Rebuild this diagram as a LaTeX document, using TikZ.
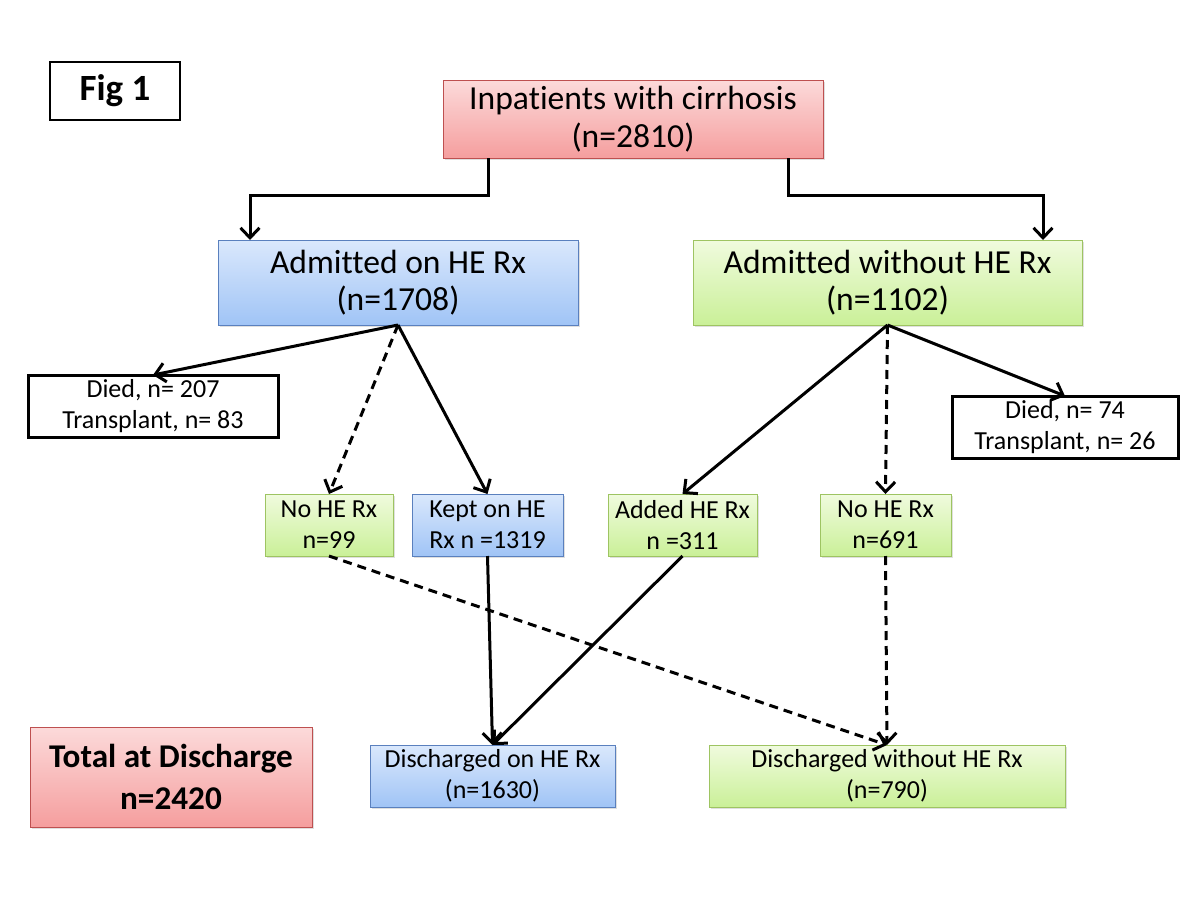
\documentclass[tikz,border=0pt]{standalone}
\usepackage{fontspec}
\setmainfont{Carlito}[Ligatures=NoCommon]
\usetikzlibrary{arrows.meta,shadows}
\definecolor{redtop}{RGB}{252,218,218}
\definecolor{redbot}{RGB}{245,158,158}
\definecolor{redline}{RGB}{190,80,80}
\definecolor{bluetop}{RGB}{218,232,252}
\definecolor{bluebot}{RGB}{160,196,246}
\definecolor{blueline}{RGB}{90,128,190}
\definecolor{greentop}{RGB}{240,251,222}
\definecolor{greenbot}{RGB}{202,240,152}
\definecolor{greenline}{RGB}{158,196,98}

\begin{document}
\begin{tikzpicture}[x=0.5pt, y=-0.5pt,
    box/.style={align=center, inner sep=0pt, outer sep=0pt},
    shade/.style={box, drop shadow={opacity=0.25, shadow xshift=1pt, shadow yshift=-1pt}},
    redbox/.style={shade, draw=redline, line width=0.5pt, top color=redtop, bottom color=redbot},
    bluebox/.style={shade, draw=blueline, line width=0.5pt, top color=bluetop, bottom color=bluebot},
    greenbox/.style={shade, draw=greenline, line width=0.5pt, top color=greentop, bottom color=greenbot},
    outbox/.style={box, draw=black, line width=1.5pt, fill=white},
    big/.style={font=\fontsize{16.8}{18.8}\selectfont},
    small/.style={font=\fontsize{13}{15.5}\selectfont},
    arr/.style={line width=1.5pt, -{Straight Barb[length=5pt, width=9.5pt]}},
    darr/.style={arr, dash pattern=on 4.5pt off 3pt}]
  \useasboundingbox (0,0) rectangle (1200,900);

  % --- label in the corner ---
  \node[box, draw=black, line width=0.75pt, minimum width=65pt, minimum height=29pt,
        font=\fontsize{18.5}{20}\selectfont\bfseries] (fig) at (115,91) {Fig 1};

  % --- top and second level ---
  \node[redbox, big, minimum width=190pt, minimum height=39pt] (inpat) at (633,119)
    {Inpatients with cirrhosis\\(n=2810)};
  \node[bluebox, big, minimum width=180pt, minimum height=42.5pt] (onrx) at (398,282.5)
    {Admitted on HE Rx\\(n=1708)};
  \node[greenbox, big, minimum width=194.5pt, minimum height=42.5pt] (offrx) at (887.5,282.5)
    {Admitted without HE Rx\\(n=1102)};

  % --- died / transplant ---
  \node[outbox, small, minimum width=125pt, minimum height=31pt] (diedon) at (153,406)
    {Died, n= 207\\Transplant, n= 83};
  \node[outbox, small, minimum width=113pt, minimum height=31pt] (diedoff) at (1065,427)
    {Died, n= 74\\Transplant, n= 26};

  % --- what happened in hospital ---
  \node[greenbox, small, minimum width=64pt, minimum height=31pt] (stopped) at (329,525)
    {No HE Rx\\n=99};
  \node[bluebox, small, minimum width=75.5pt, minimum height=31pt] (kept) at (487.5,525)
    {Kept on HE\\Rx n =1319};
  \node[greenbox, small, minimum width=74.5pt, minimum height=31pt] (added) at (682.5,525)
    {Added HE Rx\\n =311};
  \node[greenbox, small, minimum width=65.5pt, minimum height=31pt] (never) at (885.5,525)
    {No HE Rx\\n=691};

  % --- discharge ---
  \node[redbox, minimum width=141pt, minimum height=50pt,
        font=\fontsize{16.6}{21}\selectfont\bfseries] (total) at (171,777)
    {Total at Discharge\\n=2420};
  \node[bluebox, small, minimum width=122.5pt, minimum height=31pt] (dischon) at (492.5,776)
    {Discharged on HE Rx\\(n=1630)};
  \node[greenbox, small, minimum width=178pt, minimum height=31pt] (dischoff) at (887,776)
    {Discharged without HE Rx\\(n=790)};

  % --- elbow connectors from the top box ---
  \draw[arr] ([xshift=-72.5pt]inpat.south) -- ++(0,37) -| ([xshift=-74pt]onrx.north);
  \draw[arr] ([xshift=77.5pt]inpat.south) -- ++(0,37) -| ([xshift=77.75pt]offrx.north);

  % --- fan out below the admission boxes ---
  \foreach \a/\b/\s in {onrx/diedon/arr, onrx/stopped/darr, onrx/kept/arr,
                        offrx/added/arr, offrx/never/darr, offrx/diedoff/arr}
    \draw[\s] (\a.south) -- (\b.north);

  % --- on to discharge ---
  \foreach \a/\b/\s in {stopped/dischoff/darr, kept/dischon/arr,
                        added/dischon/arr, never/dischoff/darr}
    \draw[\s] (\a.south) -- (\b.north);
\end{tikzpicture}
\end{document}
